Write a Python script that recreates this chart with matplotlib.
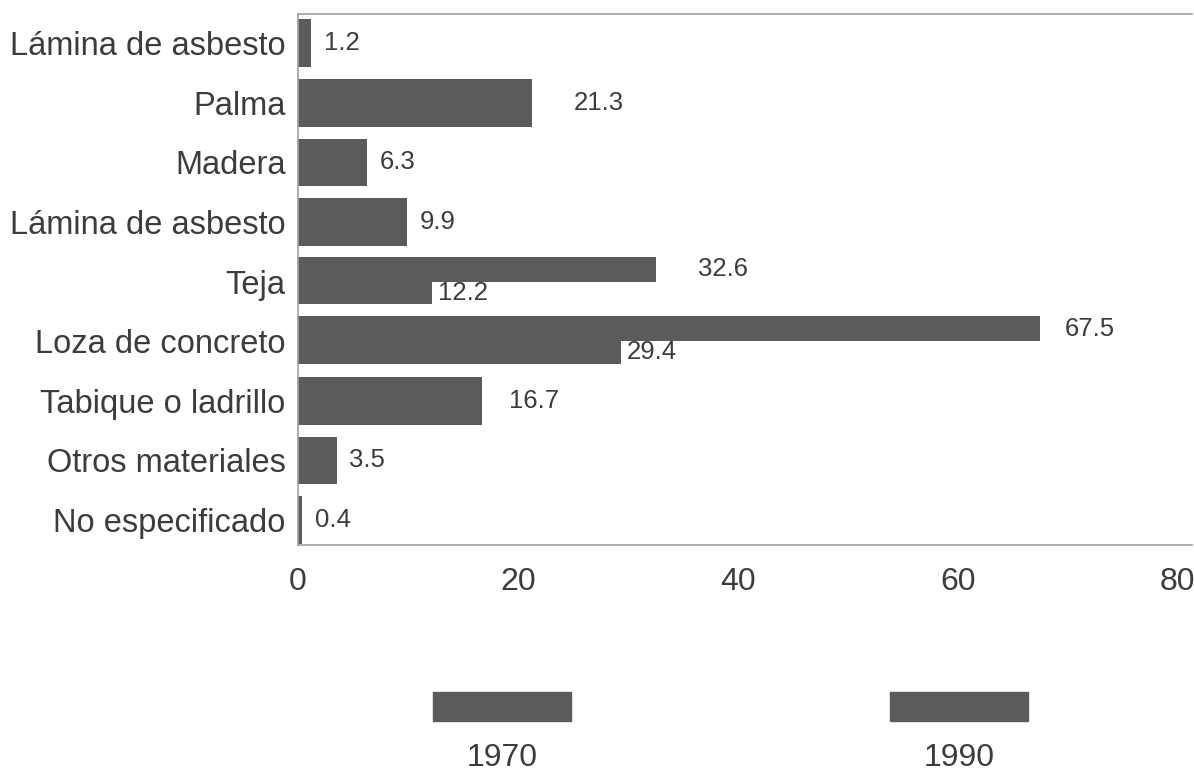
import matplotlib.pyplot as plt
from matplotlib.patches import Rectangle

plt.rcParams['font.family'] = ['Liberation Sans', 'DejaVu Sans']

# Datos (porcentajes)
categorias = ['Lámina de asbesto', 'Palma', 'Madera', 'Lámina de asbesto', 'Teja',
              'Loza de concreto', 'Tabique o ladrillo', 'Otros materiales', 'No especificado']
valores_sup = [1.2, 21.3, 6.3, 9.9, 32.6, 67.5, 16.7, 3.5, 0.4]   # barra unica o superior
valores_inf = [None, None, None, None, 12.2, 29.4, None, None, None]  # barra inferior
anios = ['1970', '1990']
ticks_x = [0, 20, 40, 60, 80]

# separacion de etiquetas (puntos), solo maquetacion
pad_sup = [9, 30, 9, 9, 30, 18, 20, 9, 9]
pad_inf = 4

color_barra = '#5b5b5b'
color_texto = '#3c3c3c'

fig = plt.figure(figsize=(11.94, 7.74), dpi=100)
ax = fig.add_axes([0.2496, 0.2959, 0.7487, 0.686])

for i, cat in enumerate(categorias):
    a = valores_sup[i]
    b = valores_inf[i]
    if b is None:
        ax.barh(i, a, height=0.8, color=color_barra, align='center')
        ax.annotate(f'{a}', (a, i), xytext=(pad_sup[i], 0), textcoords='offset points',
                    va='center', ha='left', fontsize=18.5, color=color_texto)
    else:
        ax.barh(i - 0.21, a, height=0.42, color=color_barra, align='center')
        ax.barh(i + 0.19, b, height=0.38, color=color_barra, align='center')
        ax.annotate(f'{a}', (a, i - 0.21), xytext=(pad_sup[i], 0), textcoords='offset points',
                    va='center', ha='left', fontsize=18.5, color=color_texto)
        ax.annotate(f'{b}', (b, i + 0.19), xytext=(pad_inf, 0), textcoords='offset points',
                    va='center', ha='left', fontsize=18.5, color=color_texto)

ax.set_xlim(0, 81.3)
ax.set_ylim(8.42, -0.49)
ax.set_yticks(range(len(categorias)))
ax.set_yticklabels(categorias, fontsize=23.5, color=color_texto)
ax.set_xticks(ticks_x)
ax.set_xticklabels([str(t) for t in ticks_x], fontsize=23, color=color_texto)
ax.tick_params(axis='both', length=0)
ax.tick_params(axis='y', pad=9)
ax.tick_params(axis='x', pad=16)

for s in ['top', 'bottom', 'left']:
    ax.spines[s].set_color('#a0a0a0')
    ax.spines[s].set_linewidth(1.2)
ax.spines['right'].set_visible(False)

# Leyenda: muestra y texto debajo
leyenda_x = [433 / 1194, 890 / 1194]
for x0, anio in zip(leyenda_x, anios):
    fig.add_artist(Rectangle((x0, 1 - 721 / 774), 138 / 1194, 29 / 774,
                             transform=fig.transFigure, color=color_barra))
    fig.text(x0 + 69 / 1194, 1 - 758 / 774, anio, ha='center', va='center',
             fontsize=23, color=color_texto)

fig.savefig('out.png', dpi=100)
